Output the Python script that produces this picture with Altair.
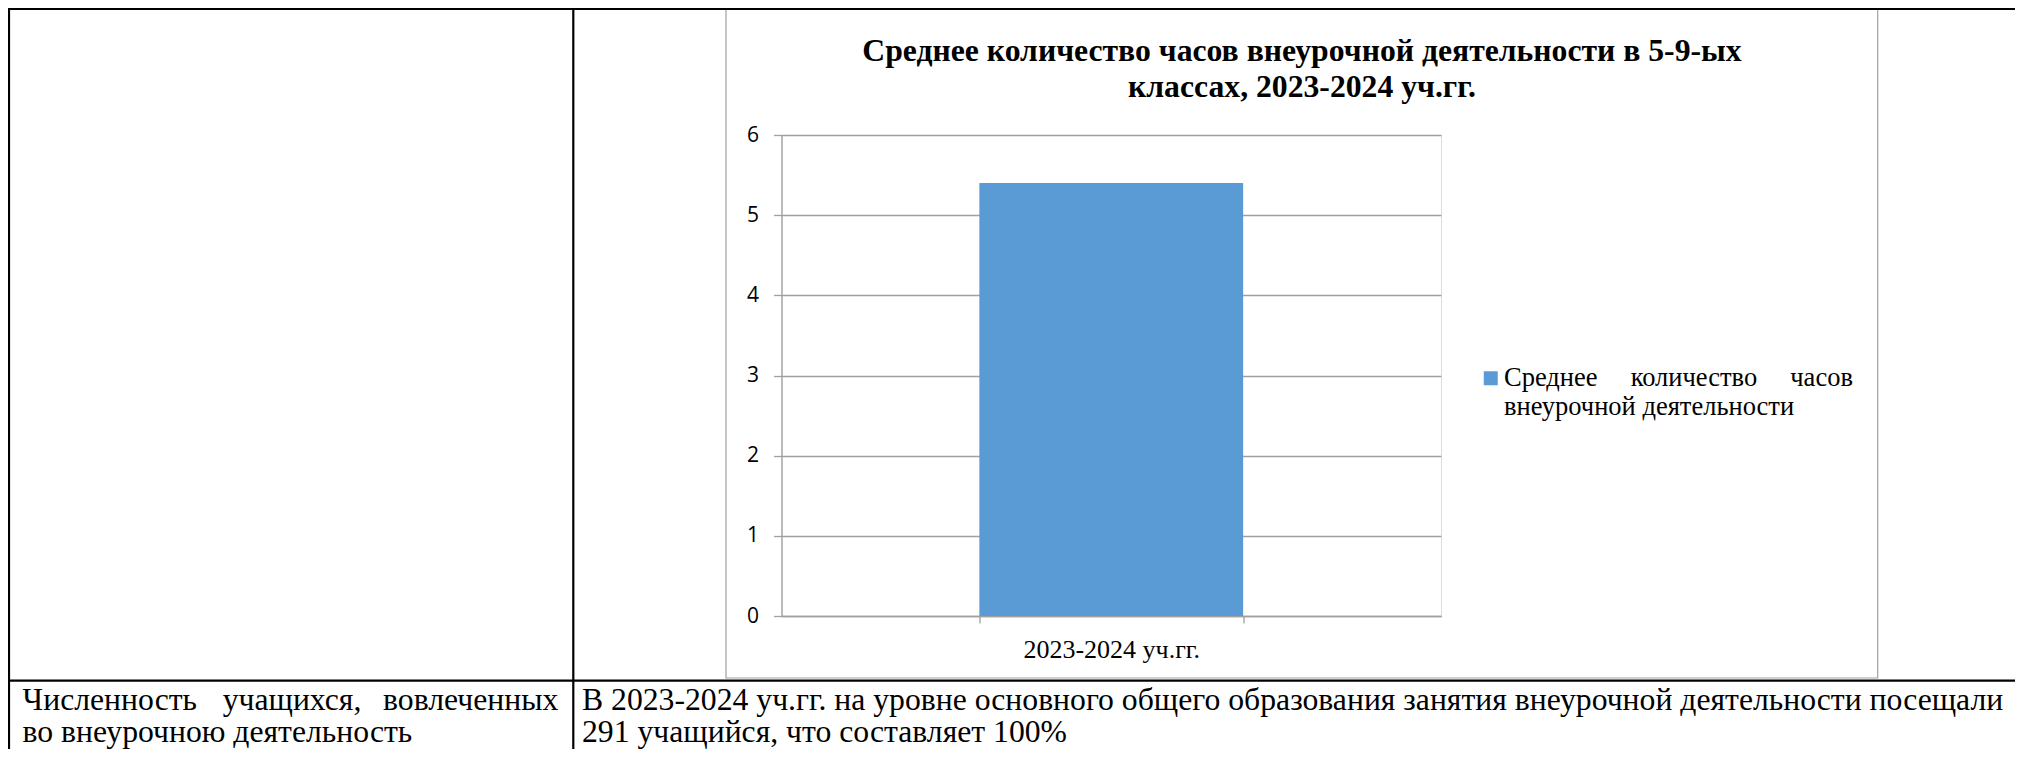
import altair as alt
import pandas as pd

# ---- data ----
categories = ["2023-2024 уч.гг."]
values = [5.4]
series_name = ["Среднее количество часов внеурочной деятельности"]
y_ticks = [0, 1, 2, 3, 4, 5, 6]
title_lines = ["Среднее количество часов внеурочной деятельности в 5-9-ых",
               "классах, 2023-2024 уч.гг."]
NB = "\u00a0"
legend_lines = ["Среднее" + NB * 5 + "количество" + NB * 5 + "часов",
                "внеурочной деятельности"]
row_label_words = ["Численность", "учащихся,", "вовлеченных"]
row_label_line2 = "во внеурочною деятельность"
row_text_line1 = "В 2023-2024 уч.гг. на уровне основного общего образования занятия внеурочной деятельности посещали"
row_text_line2 = "291 учащийся, что составляет 100%"

df = pd.DataFrame({"period": categories, "hours": values, "series": series_name})
one = pd.DataFrame({"k": [0]})

W, H = 659.5, 481
GRAY = "#A0A0A0"
SERIF = "Liberation Serif, Tinos, 'Times New Roman', 'DejaVu Serif', serif"
BODY = 31.7

legend_expr = "[" + ", ".join("'" + s + "'" for s in legend_lines) + "]"

bars = alt.Chart(df).mark_bar().encode(
    x=alt.X("period:N", title=None,
            scale=alt.Scale(paddingInner=0.6, paddingOuter=0.3),
            axis=alt.Axis(labelAngle=0, labelFont=SERIF, labelFontSize=26, labelColor="black",
                          domainColor=GRAY, domainWidth=1.3, tickColor=GRAY, tickWidth=1.3,
                          tickSize=7, tickBand="extent", labelPadding=34,
                          labelBaseline="alphabetic")),
    y=alt.Y("hours:Q", title=None, scale=alt.Scale(domain=[0, 6]),
            axis=alt.Axis(values=y_ticks, labelFont="Open Sans", labelFontSize=21,
                          labelColor="black", domainColor=GRAY, domainWidth=1.3,
                          gridColor=GRAY, gridWidth=1.3, tickColor=GRAY, tickWidth=1.3,
                          tickSize=8, labelPadding=15)),
    color=alt.Color("series:N", scale=alt.Scale(range=["#5B9BD5"]),
                    legend=alt.Legend(orient="none", legendX=696, legendY=230, title=None,
                                      symbolType="square", symbolSize=196, symbolStrokeWidth=0,
                                      labelFont=SERIF, labelFontSize=26.5, labelColor="black",
                                      labelLimit=0, labelOffset=0, padding=0,
                                      labelBaseline="middle", labelExpr=legend_expr)),
)

def hline(y, x1, x2, color, w):
    return alt.Chart(one).mark_rule(color=color, strokeWidth=w).encode(
        x=alt.value(x1), x2=alt.value(x2), y=alt.value(y))

def vline(x, y1, y2, color, w):
    return alt.Chart(one).mark_rule(color=color, strokeWidth=w).encode(
        x=alt.value(x), y=alt.value(y1), y2=alt.value(y2))

def text(s, x, y, align="left", size=BODY):
    return alt.Chart(one).mark_text(align=align, baseline="alphabetic", font=SERIF,
                                    fontSize=size, color="black").encode(
        x=alt.value(x), y=alt.value(y), text=alt.value(s))

frame = alt.Chart(one).mark_rect(fill="transparent", stroke=GRAY, strokeWidth=1.2).encode(
    x=alt.value(-55.5), x2=alt.value(1096.2), y=alt.value(-126.5), y2=alt.value(543))

table = [
    hline(-126, -774, 1234, "black", 2.2),
    hline(545.7, -774, 1234, "black", 2.2),
    vline(-772.5, -127, 614, "black", 2.2),
    vline(-208.2, -127, 614, "black", 2.2),
]

texts = [
    text(row_label_words[0], -758.9, 575, "left"),
    text(row_label_words[1], -489.5, 575, "center"),
    text(row_label_words[2], -223.1, 575, "right"),
    text(row_label_line2, -758.9, 607, "left"),
    text(row_text_line1, -199.5, 575, "left"),
    text(row_text_line2, -199.5, 607, "left"),
]

chart = alt.layer(frame, *table, *texts, bars).properties(
    width=W, height=H,
    autosize=alt.AutoSizeParams(type="none"),
    padding={"left": 773.5, "top": 127, "right": 574, "bottom": 133},
    title=alt.TitleParams(text=title_lines, anchor="middle", frame="group", dx=190.75,
                          font=SERIF, fontSize=31.7, fontWeight="bold", color="black",
                          lineHeight=36.5, baseline="alphabetic", offset=0, dy=121.8),
).configure_view(stroke=None).configure(background="white")

chart.save("out.html", embed_options={"renderer": "svg", "actions": False})
